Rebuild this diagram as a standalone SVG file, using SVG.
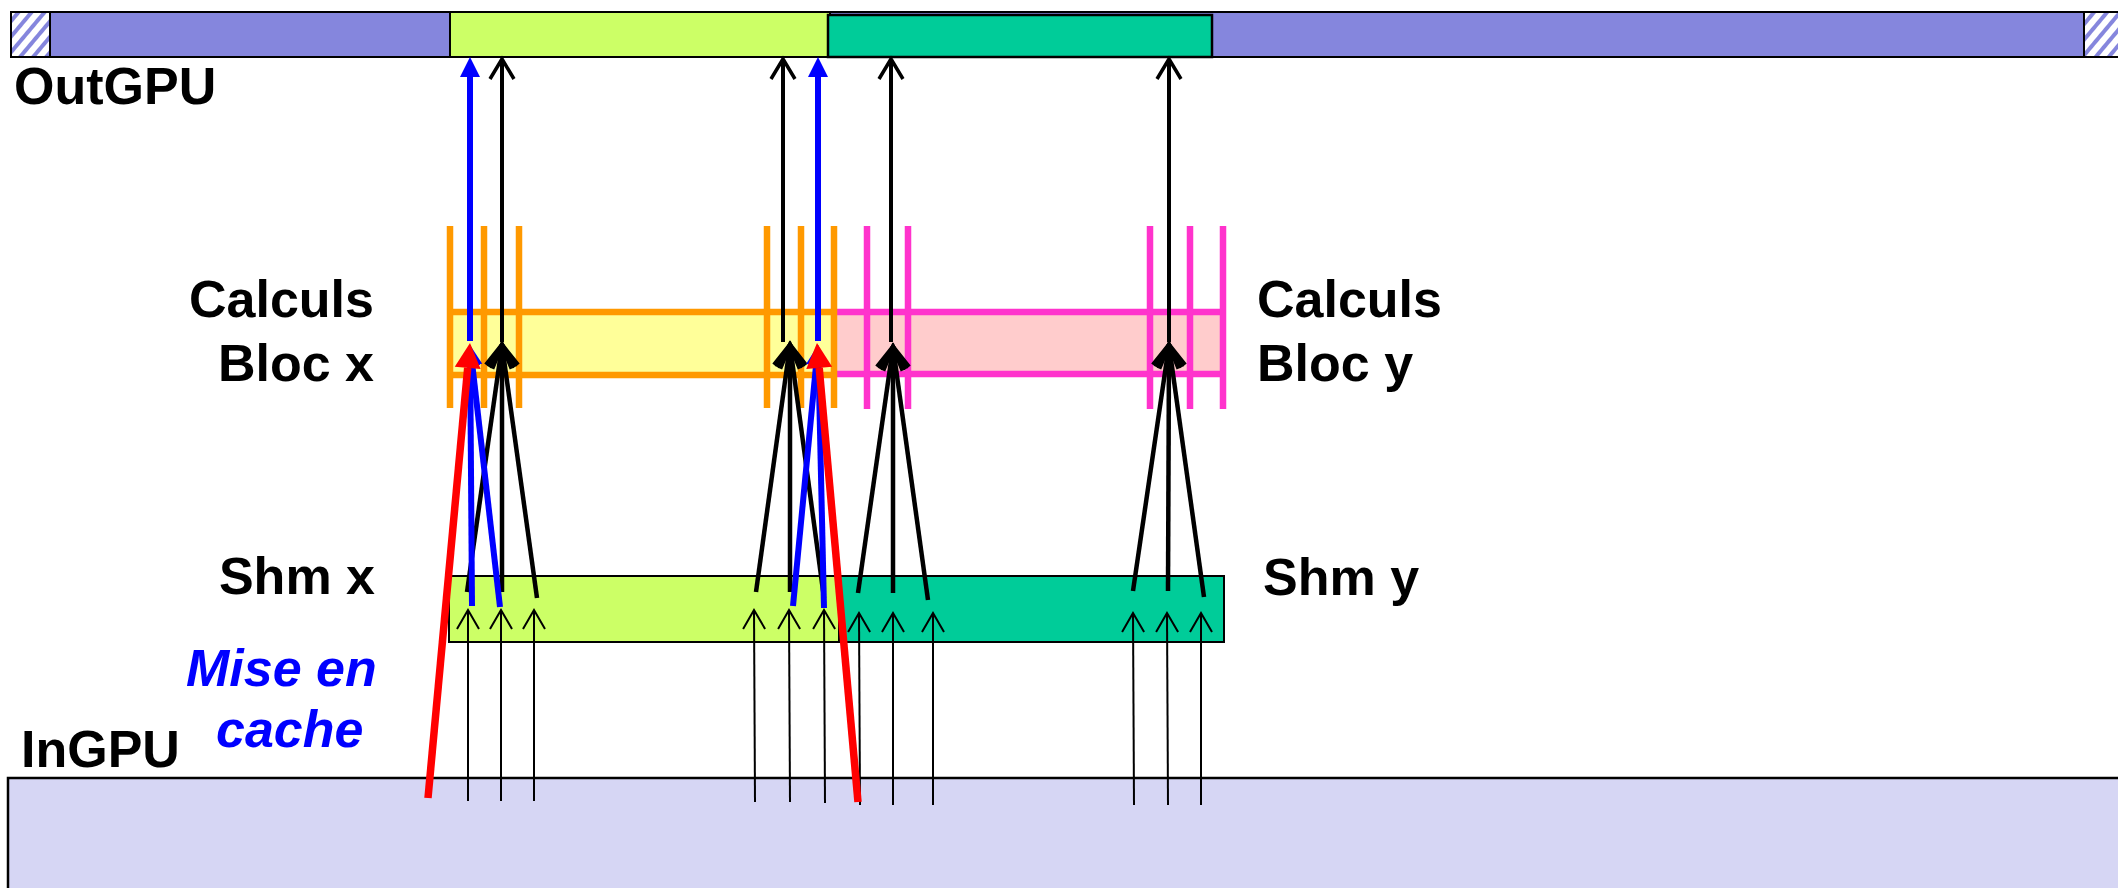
<svg xmlns="http://www.w3.org/2000/svg" width="2118" height="888" viewBox="0 0 2118 888">
<defs>
<style>
.lbl{font-family:"Liberation Sans",Arial,sans-serif;font-weight:bold;font-size:52px;fill:#000}
.cache{font-family:"Liberation Sans",Arial,sans-serif;font-weight:bold;font-style:italic;font-size:52px;fill:#0000FF}
.thin{stroke:#000;stroke-width:2;fill:none;marker-end:url(#mThin)}
.fan{stroke:#000;stroke-width:4.5;fill:none;marker-end:url(#mFan)}
.up{stroke:#000;stroke-width:4;fill:none;marker-end:url(#mTop)}
.blue{stroke:#0000FF;stroke-width:6;fill:none;marker-end:url(#mBlue)}
.red{stroke:#FF0000;stroke-width:7.5;fill:none;marker-end:url(#mRed)}
.ov{stroke:#FF9900;stroke-width:6.5}
.pv{stroke:#FF33CC;stroke-width:6.5}
</style>
<pattern id="hatch" patternUnits="userSpaceOnUse" width="10" height="10" patternTransform="rotate(40)">
<rect width="10" height="10" fill="#fff"/>
<rect width="4" height="10" fill="#8586DD"/>
</pattern>
<marker id="mThin" markerUnits="userSpaceOnUse" viewBox="-25 -15 30 30" refX="0" refY="0" markerWidth="30" markerHeight="30" orient="auto">
<path d="M-19,-11 L0,0 L-19,11" fill="none" stroke="#000" stroke-width="2"/>
</marker>
<marker id="mFan" markerUnits="userSpaceOnUse" viewBox="-30 -20 40 40" refX="0" refY="0" markerWidth="40" markerHeight="40" orient="auto">
<path d="M-22,-13 L0,0 L-22,13" fill="none" stroke="#000" stroke-width="4.5"/>
</marker>
<marker id="mTop" markerUnits="userSpaceOnUse" viewBox="-30 -20 40 40" refX="0" refY="0" markerWidth="40" markerHeight="40" orient="auto">
<path d="M-20,-12 L0,0 L-20,12" fill="none" stroke="#000" stroke-width="3.5"/>
</marker>
<marker id="mBlue" markerUnits="userSpaceOnUse" viewBox="-5 -15 30 30" refX="0" refY="0" markerWidth="30" markerHeight="30" orient="auto">
<path d="M0,-10 L20,0 L0,10 Z" fill="#0000FF"/>
</marker>
<marker id="mRed" markerUnits="userSpaceOnUse" viewBox="-5 -15 35 30" refX="0" refY="0" markerWidth="35" markerHeight="30" orient="auto">
<path d="M0,-13 L25,0 L0,13 Z" fill="#FF0000"/>
</marker>
</defs>
<rect width="2118" height="888" fill="#fff"/>

<g id="ingpu">
<rect x="8" y="778" width="2130" height="130" fill="#D6D6F4" stroke="#000" stroke-width="2.5"/>
<text class="lbl" x="21" y="767">InGPU</text>
</g>

<g id="outgpu">
<rect x="11" y="12" width="2120" height="45" fill="#8586DD" stroke="#000" stroke-width="2"/>
<rect x="11" y="12" width="39" height="45" fill="url(#hatch)" stroke="#000" stroke-width="2"/>
<rect x="2084" y="12" width="50" height="45" fill="url(#hatch)" stroke="#000" stroke-width="2"/>
<rect x="450" y="12" width="380" height="45" fill="#CCFF66" stroke="#000" stroke-width="2"/>
<rect x="828" y="15" width="384" height="42" fill="#00CC99" stroke="#000" stroke-width="2.5"/>
<text class="lbl" x="14" y="104">OutGPU</text>
</g>

<g id="shm-x">
<rect x="449" y="576" width="391" height="66" fill="#CCFF66" stroke="#000" stroke-width="2"/>
<text class="lbl" x="375" y="594" text-anchor="end">Shm x</text>
</g>
<g id="shm-y">
<rect x="839" y="576" width="385" height="66" fill="#00CC99" stroke="#000" stroke-width="2"/>
<text class="lbl" x="1263" y="595">Shm y</text>
</g>

<g id="calculs-x">
<rect x="450" y="312" width="383" height="63" fill="#FFFF99"/>
<line class="ov" x1="450" y1="312" x2="833" y2="312"/>
<line class="ov" x1="450" y1="375" x2="833" y2="375"/>
<line class="ov" x1="450" y1="226" x2="450" y2="408"/>
<line class="ov" x1="484" y1="226" x2="484" y2="408"/>
<line class="ov" x1="519" y1="226" x2="519" y2="408"/>
<line class="ov" x1="767" y1="226" x2="767" y2="408"/>
<line class="ov" x1="801" y1="226" x2="801" y2="408"/>
<text class="lbl" x="374" y="317" text-anchor="end">Calculs</text>
<text class="lbl" x="374" y="381" text-anchor="end">Bloc x</text>
</g>
<g id="calculs-y">
<rect x="836" y="312" width="387" height="62" fill="#FFCCCC"/>
<line class="pv" x1="836" y1="312" x2="1226" y2="312"/>
<line class="pv" x1="836" y1="374" x2="1226" y2="374"/>
<line class="pv" x1="867" y1="226" x2="867" y2="409"/>
<line class="pv" x1="908" y1="226" x2="908" y2="409"/>
<line class="pv" x1="1150" y1="226" x2="1150" y2="409"/>
<line class="pv" x1="1190" y1="226" x2="1190" y2="409"/>
<line class="pv" x1="1223" y1="226" x2="1223" y2="409"/>
<line class="ov" x1="834" y1="226" x2="834" y2="408"/>
<text class="lbl" x="1257" y="317">Calculs</text>
<text class="lbl" x="1257" y="381">Bloc y</text>
</g>

<g id="mise-en-cache">
<text class="cache" x="186" y="686">Mise en</text>
<text class="cache" x="216" y="747">cache</text>
</g>

<g id="connectors">
<line class="thin" x1="468" y1="801" x2="468" y2="610"/>
<line class="thin" x1="501" y1="801" x2="501" y2="610"/>
<line class="thin" x1="534" y1="801" x2="534" y2="610"/>
<line class="thin" x1="755" y1="802" x2="754" y2="610"/>
<line class="thin" x1="790" y1="802" x2="789" y2="610"/>
<line class="thin" x1="825" y1="803" x2="824" y2="610"/>
<line class="thin" x1="860" y1="805" x2="859" y2="613"/>
<line class="thin" x1="893" y1="805" x2="893" y2="613"/>
<line class="thin" x1="933" y1="805" x2="933" y2="613"/>
<line class="thin" x1="1134" y1="805" x2="1133" y2="613"/>
<line class="thin" x1="1168" y1="805" x2="1167" y2="613"/>
<line class="thin" x1="1201" y1="805" x2="1201" y2="613"/>

<line class="fan" x1="467" y1="592" x2="502" y2="345"/>
<line class="fan" x1="502" y1="592" x2="502" y2="345"/>
<line class="fan" x1="537" y1="598" x2="502" y2="345"/>
<line class="fan" x1="756" y1="592" x2="790" y2="345"/>
<line class="fan" x1="790" y1="592" x2="790" y2="345"/>
<line class="fan" x1="824" y1="598" x2="790" y2="345"/>
<line class="fan" x1="858" y1="593" x2="893" y2="347"/>
<line class="fan" x1="893" y1="593" x2="893" y2="347"/>
<line class="fan" x1="928" y1="600" x2="893" y2="347"/>
<line class="fan" x1="1133" y1="591" x2="1169" y2="345"/>
<line class="fan" x1="1168" y1="591" x2="1169" y2="345"/>
<line class="fan" x1="1204" y1="597" x2="1169" y2="345"/>

<line class="up" x1="502" y1="342" x2="502" y2="59"/>
<line class="up" x1="783" y1="342" x2="783" y2="59"/>
<line class="up" x1="891" y1="342" x2="891" y2="59"/>
<line class="up" x1="1169" y1="342" x2="1169" y2="59"/>

<line class="blue" x1="470" y1="341" x2="470" y2="77"/>
<line class="blue" x1="818" y1="341" x2="818" y2="77"/>
<line class="blue" x1="472" y1="606" x2="470.2" y2="365"/>
<line class="blue" x1="500" y1="607" x2="472.3" y2="364.9"/>
<line class="blue" x1="793" y1="606" x2="816.1" y2="364.9"/>
<line class="blue" x1="824" y1="608" x2="818.5" y2="365"/>

<line class="red" x1="428" y1="798" x2="467.7" y2="367.9"/>
<line class="red" x1="858" y1="802" x2="819.2" y2="367.9"/>
</g>
</svg>
